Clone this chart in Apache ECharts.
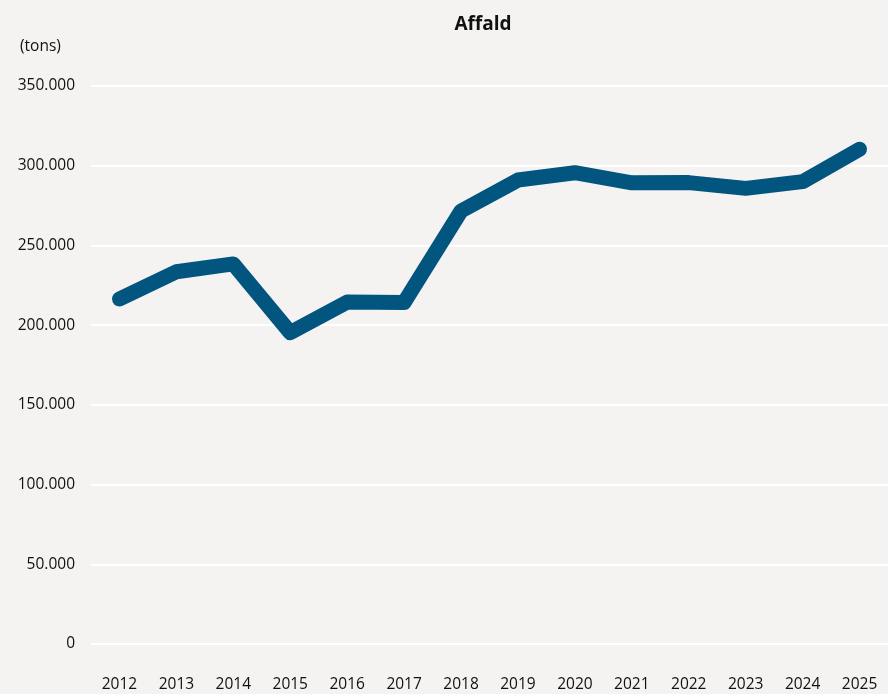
<!DOCTYPE html>
<html>
<head>
<meta charset="utf-8">
<script src="https://cdn.jsdelivr.net/npm/echarts@6/dist/echarts.min.js"></script>
<style>
  html, body { margin: 0; padding: 0; background: #f4f3f2; }
  #chart { width: 888px; height: 694px; }
</style>
</head>
<body>
<div id="chart"></div>
<script>
var years = ['2012', '2013', '2014', '2015', '2016', '2017', '2018',
             '2019', '2020', '2021', '2022', '2023', '2024', '2025'];
var affald = [216400, 233500, 238400, 195300, 214500, 214200, 271600,
              291000, 295600, 289300, 289400, 285800, 290000, 310300];

function fmt(v) {
  return String(v).replace(/\B(?=(\d{3})+(?!\d))/g, '.');
}

var textFont = '"Open Sans", "Noto Sans", sans-serif';

echarts.init(document.getElementById('chart')).setOption({
  backgroundColor: '#f4f3f2',
  animation: false,
  title: [
    {
      text: 'Affald',
      left: 478,
      top: 10,
      textAlign: 'center',
      textStyle: { fontSize: 19, fontWeight: 'bold', color: '#111', fontFamily: textFont }
    },
    {
      text: '(tons)',
      left: 15,
      top: 34,
      textStyle: { fontSize: 15.5, fontWeight: 'normal', color: '#111', fontFamily: textFont }
    }
  ],
  grid: {
    left: 91,
    top: 86,
    width: 805,
    bottom: 50,
    containLabel: false
  },
  xAxis: {
    type: 'category',
    data: years,
    boundaryGap: true,
    axisLine: { show: false },
    axisTick: { show: false },
    axisLabel: { margin: 33, fontSize: 15.5, color: '#111', fontFamily: textFont }
  },
  yAxis: {
    type: 'value',
    min: 0,
    max: 350000,
    interval: 50000,
    axisLine: { show: false },
    axisTick: { show: false },
    axisLabel: {
      margin: 16,
      fontSize: 15.5,
      color: '#111',
      fontFamily: textFont,
      formatter: fmt
    },
    splitLine: { lineStyle: { color: '#ffffff', width: 2 } }
  },
  series: [
    {
      type: 'line',
      data: affald,
      showSymbol: false,
      lineStyle: { color: '#02557f', width: 15, cap: 'round', join: 'round' }
    }
  ]
});
</script>
</body>
</html>
